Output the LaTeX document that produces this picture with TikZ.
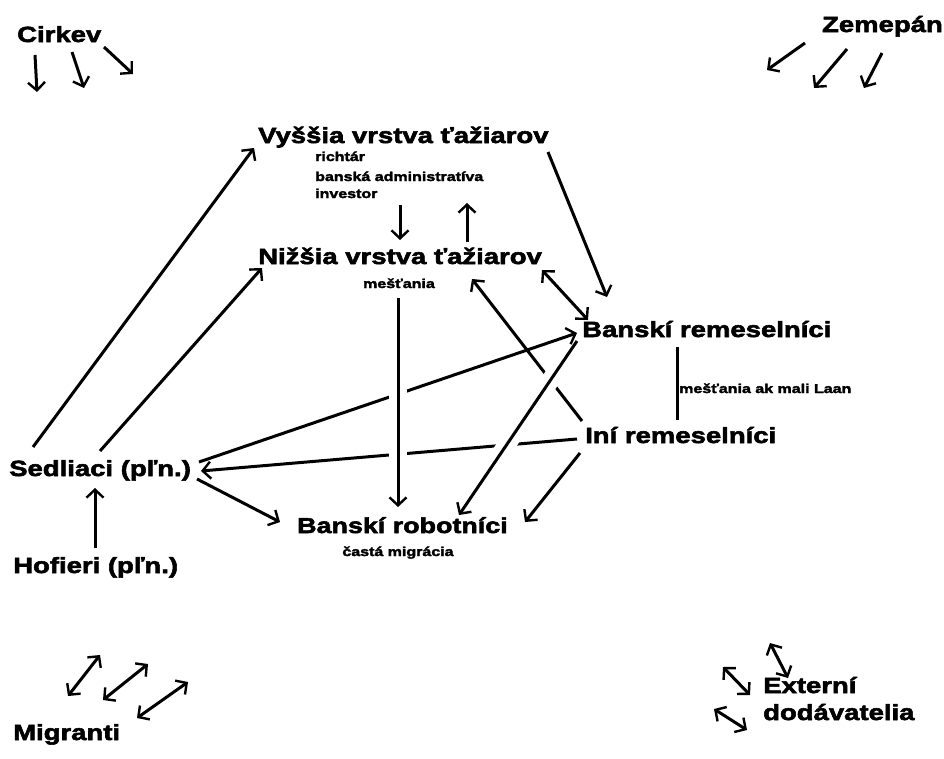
\documentclass[tikz,border=0pt]{standalone}
\usepackage{fontspec}
\setmainfont{Liberation Sans}[BoldFeatures={FakeStretch=1.25,FakeBold=2.6}]
\usetikzlibrary{arrows.meta}
\begin{document}
\begin{tikzpicture}[x=1pt,y=-1pt,
  lbl/.style={inner sep=0pt, anchor=base west, font=\fontsize{22}{27}\selectfont\bfseries},
  sm/.style={inner sep=0pt, anchor=base west, font=\fontsize{12.8}{15}\selectfont\bfseries},
  ln/.style={line width=3pt},
  tip/.style={},
  arr/.style={ln, -{Straight Barb[length=8pt,width=17pt,line width=2.4pt]}},
  darr/.style={ln, {Straight Barb[length=8pt,width=17pt,line width=2.4pt]}-{Straight Barb[length=8pt,width=17pt,line width=2.4pt]}},
  over/.style={preaction={draw=white, -, line width=18pt, shorten <=30pt, shorten >=30pt}},
]
\useasboundingbox[fill=white] (0,0) rectangle (944,758);
% free-end coordinates
\coordinate (c1a) at (35,55);   \coordinate (c1b) at (37,92);
\coordinate (c2a) at (72,52);   \coordinate (c2b) at (84,88);
\coordinate (c3a) at (104,47);  \coordinate (c3b) at (133,74);
\coordinate (z1a) at (805,43);  \coordinate (z1b) at (767,70);
\coordinate (z2a) at (847,49);  \coordinate (z2b) at (814,88);
\coordinate (z3a) at (882,53);  \coordinate (z3b) at (864,88);
\coordinate (m1a) at (68,696);  \coordinate (m1b) at (100,655);
\coordinate (m2a) at (103,700); \coordinate (m2b) at (148,664);
\coordinate (m3a) at (137,718); \coordinate (m3b) at (188,682);
\coordinate (e1a) at (770,643); \coordinate (e1b) at (788,678);
\coordinate (e2a) at (723,667); \coordinate (e2b) at (750,695);
\coordinate (e3a) at (714,709); \coordinate (e3b) at (747,730);
% connector end points at the texts
\coordinate (vysD) at (400,205);  \coordinate (nizU) at (400,240);
\coordinate (nizV) at (467,242);  \coordinate (vysU) at (467,203);
\coordinate (vysR) at (548,152);  \coordinate (brT) at (607,297);
\coordinate (nizR) at (542,270);  \coordinate (brL) at (588,320);
\coordinate (iniN) at (582,421);  \coordinate (nizB) at (472,279);
\coordinate (seV) at (33,447);    \coordinate (vysL) at (254,148);
\coordinate (seN) at (100,451);   \coordinate (nizL) at (262,268);
\coordinate (seR) at (199,462);   \coordinate (brW) at (577,333);
\coordinate (iniS) at (577,439);  \coordinate (seE) at (201,471);
\coordinate (seB) at (197,479);   \coordinate (robL) at (280,522);
\coordinate (hofT) at (95,548);   \coordinate (seD) at (95,488);
\coordinate (mestD) at (398,298); \coordinate (robT) at (398,507);
\coordinate (brD) at (577,341);   \coordinate (robR) at (459,515);
\coordinate (iniR) at (580,453);  \coordinate (robE) at (525,522);
\coordinate (laanT) at (677,347); \coordinate (laanB) at (677,420);
% corner arrows
\draw[arr] (c1a) -- (c1b);
\draw[arr] (c2a) -- (c2b);
\draw[arr] (c3a) -- (c3b);
\draw[arr] (z1a) -- (z1b);
\draw[arr] (z2a) -- (z2b);
\draw[arr] (z3a) -- (z3b);
\draw[darr] (m1a) -- (m1b);
\draw[darr] (m2a) -- (m2b);
\draw[darr] (m3a) -- (m3b);
\draw[darr] (e1a) -- (e1b);
\draw[darr] (e2a) -- (e2b);
\draw[darr] (e3a) -- (e3b);
% main connectors (under)
\draw[arr] (vysD) -- (nizU);
\draw[arr] (nizV) -- (vysU);
\draw[arr] (vysR) -- (brT);
\draw[darr] (nizR) -- (brL);
\draw[arr] (iniN) -- (nizB);
\draw[arr] (seV) -- (vysL);
\draw[arr] (seN) -- (nizL);
\draw[arr] (seR) -- (brW);
\draw[arr] (iniS) -- (seE);
\draw[arr] (seB) -- (robL);
\draw[arr] (hofT) -- (seD);
\draw[arr] (iniR) -- (robE);
\draw[ln] (laanT) -- (laanB);
% connectors that pass over others
\draw[arr, over] (mestD) -- (robT);
\draw[arr, over] (brD) -- (robR);
% texts
\node[lbl] (cirkev) at (17,42) {Cirkev};
\node[lbl, anchor=base east] (zemepan) at (943,32) {Zemepán};
\node[lbl] (vys) at (258,143) {Vyššia vrstva ťažiarov};
\node[sm] (richtar) at (315,161) {richtár};
\node[sm] (admin) at (315,181) {banská administratíva};
\node[sm] (invest) at (315,198) {investor};
\node[lbl] (niz) at (258,264) {Nižšia vrstva ťažiarov};
\node[sm, anchor=base] (mest) at (399,288) {mešťania};
\node[lbl] (banrem) at (582,337) {Banskí remeselníci};
\node[sm] (laan) at (679,393) {mešťania ak mali Laan};
\node[lbl] (ini) at (585,443) {Iní remeselníci};
\node[lbl] (sedl) at (9,476) {Sedliaci (pľn.)};
\node[lbl] (hof) at (13,573) {Hofieri (pľn.)};
\node[lbl, font=\fontsize{21.5}{27}\selectfont\bfseries] (rob) at (297,533) {Banskí robotníci};
\node[sm, anchor=base] (casta) at (398,556) {častá migrácia};
\node[lbl] (migr) at (13,740) {Migranti};
\node[lbl, align=left] (ext) at (763,720) {Externí\\dodávatelia};
\end{tikzpicture}
\end{document}
